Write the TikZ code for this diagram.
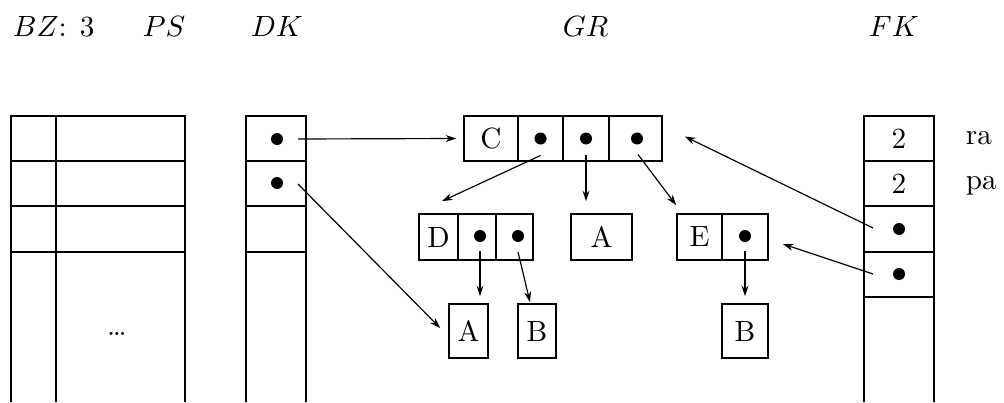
\documentclass[tikz,border=0pt]{standalone}
\usetikzlibrary{arrows.meta,calc}
\def\U{0.3416pt}
\begin{document}
\begin{tikzpicture}[x=0.3416pt,y=-0.3416pt,
  line width=0.6pt,
  cell/.style n args={2}{draw, line width=0.6pt, inner sep=0pt, minimum width=#1*\U, minimum height=#2*\U},
  dot/.style={circle, fill=black, inner sep=0pt, minimum size=12*\U},
  lbl/.style={inner sep=0pt, anchor=base west},
  arr/.style={line width=0.4pt, -{Stealth[length=3.6pt,width=2.4pt]}}]
\useasboundingbox (0,0) rectangle (1004,402);
% headings
\node[lbl] (hbz) at (12,36) {$BZ$: 3};
\node[lbl] (hps) at (142,36) {$PS$};
\node[lbl] (hdk) at (250,36) {$DK$};
\node[lbl] (hgr) at (562,36) {$GR$};
\node[lbl] (hfk) at (868,36) {$FK$};
% PS table
\draw (11,402) -- (11,116) -- (185,116) -- (185,402);
\draw (56,116) -- (56,402);
\draw (11,161) -- (185,161);
\draw (11,206) -- (185,206);
\draw (11,252) -- (185,252);
\node[inner sep=0pt] (psdots) at (117,334) {\dots};
% DK table
\draw (246,402) -- (246,116) -- (306,116) -- (306,402);
\draw (246,161) -- (306,161);
\draw (246,206) -- (306,206);
\draw (246,252) -- (306,252);
\node[dot] (dk1) at (277,139) {};
\node[dot] (dk2) at (277,183) {};
% FK table
\draw (864,402) -- (864,116) -- (934,116) -- (934,402);
\draw (864,161) -- (934,161);
\draw (864,206) -- (934,206);
\draw (864,252) -- (934,252);
\draw (864,297) -- (934,297);
\node[inner sep=0pt] (fk1) at (899,139) {2};
\node[inner sep=0pt] (fk2) at (899,184) {2};
\node[dot] (fk3) at (899,229) {};
\node[dot] (fk4) at (899,274) {};
\node[lbl] (ra) at (965,144) {ra};
\node[lbl] (pa) at (965,189) {pa};
% GR: C record
\node[cell={54}{45}] (c0) at (491,138.5) {C};
\node[cell={45}{45}] (c1) at (540.5,138.5) {};
\node[cell={46}{45}] (c2) at (586,138.5) {};
\node[cell={53}{45}] (c3) at (635.5,138.5) {};
\node[dot] (c1d) at (540.5,138.5) {};
\node[dot] (c2d) at (586,138.5) {};
\node[dot] (c3d) at (637,138.5) {};
% D record
\node[cell={39}{46}] (d0) at (438.5,237) {D};
\node[cell={38}{46}] (d1) at (477,237) {};
\node[cell={37}{46}] (d2) at (514.5,237) {};
\node[dot] (d1d) at (480,236) {};
\node[dot] (d2d) at (518,236) {};
% A middle
\node[cell={61}{46}] (am) at (601.5,237) {A};
% E record
\node[cell={45}{46}] (e0) at (699.5,237) {E};
\node[cell={46}{46}] (e1) at (745,237) {};
\node[dot] (e1d) at (745,236) {};
% bottom boxes
\node[cell={39}{54}] (ab) at (468.5,331) {A};
\node[cell={38}{54}] (bb) at (537,331) {B};
\node[cell={46}{54}] (be) at (745,331) {B};
% arrows
\draw[arr] ($(dk1)+(21,0)$) -- ($(c0.west)+(-7,0)$);
\draw[arr] ($(dk2)+(21,1)$) -- ($(ab.west)+(-8,-3)$);
\draw[arr] ($(c1d)+(0,17)$) -- ($(d0.north)+(3.5,-12)$);
\draw[arr] ($(c2d)+(0,16)$) -- ($(c2d|-am.north)+(0,-12)$);
\draw[arr] ($(c3d)+(1,16)$) -- ($(e0.north west)+(0,-8)$);
\draw[arr] ($(d1d)+(0,15)$) -- ($(d1d|-ab.north)+(0,-7)$);
\draw[arr] ($(d2d)+(0,16)$) -- ($(bb.north)+(-7,-1)$);
\draw[arr] ($(e1d)+(0,15)$) -- ($(e1d|-be.north)+(0,-7)$);
\draw[arr] ($(fk3)+(-26,-1)$) -- ($(c3.east)+(22,-2)$);
\draw[arr] ($(fk4)+(-26,0)$) -- ($(e1.east)+(14,7)$);
\end{tikzpicture}
\end{document}
